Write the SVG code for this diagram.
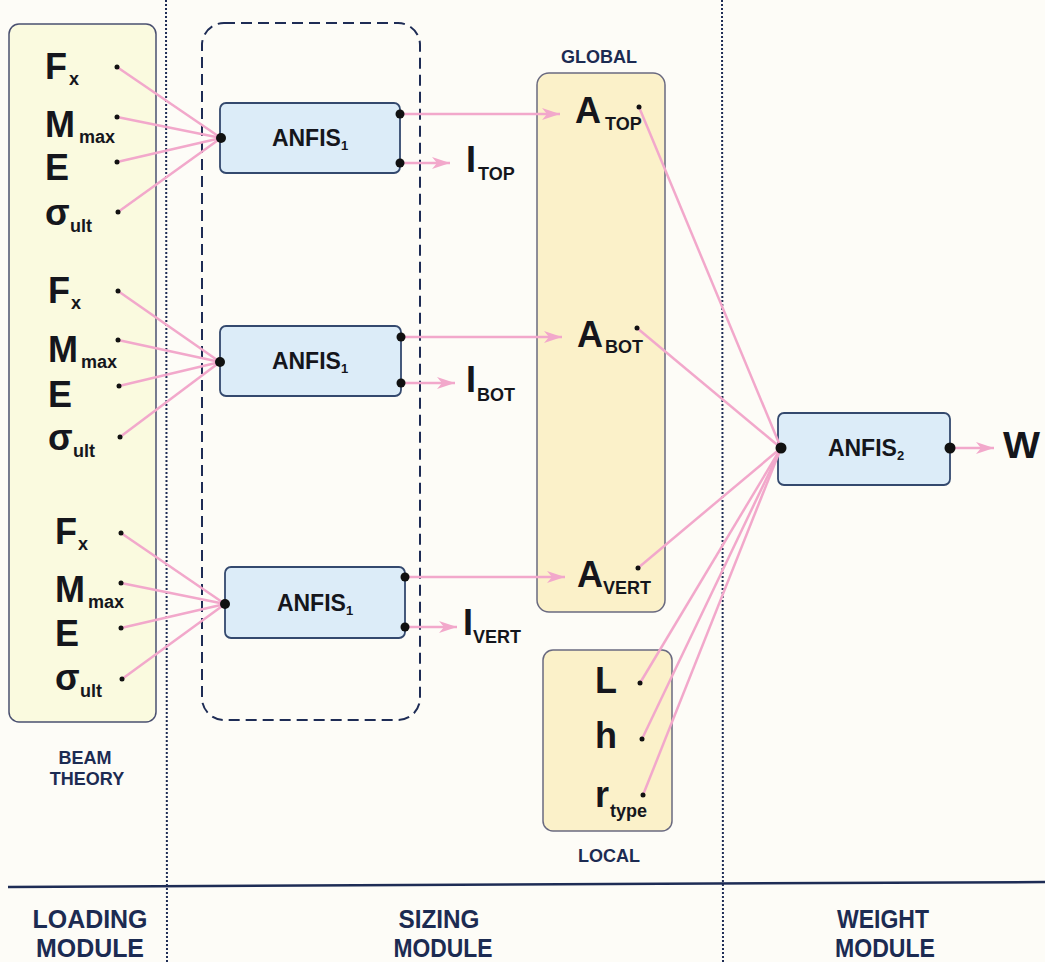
<svg xmlns="http://www.w3.org/2000/svg" width="1045" height="962" viewBox="0 0 1045 962">
<defs>
<style>
.bg{fill:#fdfcf7}
.beam{fill:#fafadf;stroke:#4a5070;stroke-width:1.5}
.gl{fill:#fbf1c9;stroke:#6a6a80;stroke-width:1.5}
.anf{fill:#dcecf8;stroke:#34496e;stroke-width:1.8}
.dash{fill:none;stroke:#1e2c55;stroke-width:2;stroke-dasharray:11,6}
.dot{fill:none;stroke:#1e2c55;stroke-width:2;stroke-dasharray:2,2}
.con{fill:none;stroke:#f2a8cb;stroke-width:2.5}
.big{font-family:"Liberation Sans",Arial,sans-serif;font-weight:bold;font-size:36px;fill:#15161c}
.sub{font-family:"Liberation Sans",Arial,sans-serif;font-weight:bold;font-size:18px;fill:#15161c}
.box{font-family:"Liberation Sans",Arial,sans-serif;font-weight:bold;font-size:23px;fill:#15161c}
.bsub{font-size:13px}
.lab{font-family:"Liberation Sans",Arial,sans-serif;font-weight:bold;font-size:18px;fill:#1c2b52}
.mod{font-family:"Liberation Sans",Arial,sans-serif;font-weight:bold;font-size:25px;fill:#1c2b52}
.pt{fill:#111}
</style>
<marker id="ar" markerUnits="userSpaceOnUse" markerWidth="20" markerHeight="14" refX="18" refY="7" orient="auto">
<path d="M0,1 L18,7 L0,13 L5,7 z" fill="#f2a8cb"/>
</marker>
</defs>
<rect class="bg" x="0" y="0" width="1045" height="962"/>

<g id="dividers">
<line class="dot" x1="166" y1="0" x2="167" y2="962"/>
<line class="dot" x1="722" y1="0" x2="723" y2="962"/>
<line x1="8" y1="887" x2="1045" y2="882" stroke="#1e2c55" stroke-width="2.5"/>
</g>

<g id="loading-box">
<rect class="beam" x="9" y="24" width="147" height="698" rx="10"/>
<text class="lab" x="85" y="764" text-anchor="middle">BEAM</text>
<text class="lab" x="87" y="785" text-anchor="middle">THEORY</text>
</g>

<g id="sizing-group">
<rect class="dash" x="202" y="23" width="218" height="697" rx="22"/>
</g>

<g id="global-box">
<rect class="gl" x="537" y="73" width="128" height="539" rx="12"/>
<text class="lab" x="599" y="63" text-anchor="middle">GLOBAL</text>
</g>

<g id="local-box">
<rect class="gl" x="543" y="650" width="129" height="181" rx="10"/>
<text class="lab" x="609" y="862" text-anchor="middle">LOCAL</text>
</g>

<g id="inputs-1">
<text class="big" x="45" y="79">F</text><text class="sub" x="69" y="85">x</text>
<text class="big" x="45" y="137">M</text><text class="sub" x="79" y="143">max</text>
<text class="big" x="45" y="180">E</text>
<text class="big" x="45" y="225">σ</text><text class="sub" x="70" y="232">ult</text>
</g>
<g id="inputs-2">
<text class="big" x="48" y="303">F</text><text class="sub" x="71" y="309">x</text>
<text class="big" x="48" y="362">M</text><text class="sub" x="81" y="368">max</text>
<text class="big" x="48" y="407">E</text>
<text class="big" x="48" y="450">σ</text><text class="sub" x="73" y="457">ult</text>
</g>
<g id="inputs-3">
<text class="big" x="55" y="544">F</text><text class="sub" x="78" y="550">x</text>
<text class="big" x="55" y="602">M</text><text class="sub" x="88" y="608">max</text>
<text class="big" x="55" y="646">E</text>
<text class="big" x="55" y="690">σ</text><text class="sub" x="80" y="697">ult</text>
</g>

<g id="anfis1-a">
<rect class="anf" x="220" y="103" width="180" height="70" rx="6"/>
<text class="box" x="310" y="146" text-anchor="middle">ANFIS<tspan class="bsub" dy="4">1</tspan></text>
</g>
<g id="anfis1-b">
<rect class="anf" x="220" y="326" width="181" height="70" rx="6"/>
<text class="box" x="310" y="369" text-anchor="middle">ANFIS<tspan class="bsub" dy="4">1</tspan></text>
</g>
<g id="anfis1-c">
<rect class="anf" x="225" y="567" width="180" height="71" rx="6"/>
<text class="box" x="315" y="611" text-anchor="middle">ANFIS<tspan class="bsub" dy="4">1</tspan></text>
</g>
<g id="anfis2">
<rect class="anf" x="778" y="413" width="172" height="72" rx="6"/>
<text class="box" x="866" y="456" text-anchor="middle">ANFIS<tspan class="bsub" dy="4">2</tspan></text>
</g>

<g id="outputs">
<text class="big" x="466" y="172">I</text><text class="sub" x="478" y="180">TOP</text>
<text class="big" x="466" y="392">I</text><text class="sub" x="477" y="401">BOT</text>
<text class="big" x="463" y="635">I</text><text class="sub" x="473" y="643">VERT</text>
</g>
<g id="areas">
<text class="big" x="575" y="123">A</text><text class="sub" x="605" y="130">TOP</text>
<text class="big" x="577" y="347">A</text><text class="sub" x="605" y="353">BOT</text>
<text class="big" x="577" y="587">A</text><text class="sub" x="603" y="594">VERT</text>
</g>
<g id="local-vars">
<text class="big" x="595" y="693">L</text>
<text class="big" x="595" y="748">h</text>
<text class="big" x="595" y="807">r</text><text class="sub" x="610" y="817">type</text>
</g>
<g id="weight">
<text class="big" x="1003" y="458" font-size="30" textLength="37" lengthAdjust="spacingAndGlyphs">W</text>
</g>

<g id="connectors">
<line class="con" x1="117" y1="67" x2="221" y2="138"/>
<line class="con" x1="117" y1="117" x2="221" y2="138"/>
<line class="con" x1="117" y1="162" x2="221" y2="138"/>
<line class="con" x1="118" y1="212" x2="221" y2="138"/>
<line class="con" x1="118" y1="291" x2="220" y2="362"/>
<line class="con" x1="118" y1="340" x2="220" y2="362"/>
<line class="con" x1="119" y1="386" x2="220" y2="362"/>
<line class="con" x1="120" y1="437" x2="220" y2="362"/>
<line class="con" x1="121" y1="533" x2="225" y2="604"/>
<line class="con" x1="121" y1="583" x2="225" y2="604"/>
<line class="con" x1="121" y1="628" x2="225" y2="604"/>
<line class="con" x1="122" y1="679" x2="225" y2="604"/>
<line class="con" x1="400" y1="114" x2="560" y2="114" marker-end="url(#ar)"/>
<line class="con" x1="400" y1="163" x2="450" y2="163" marker-end="url(#ar)"/>
<line class="con" x1="401" y1="337" x2="562" y2="337" marker-end="url(#ar)"/>
<line class="con" x1="401" y1="383" x2="455" y2="383" marker-end="url(#ar)"/>
<line class="con" x1="405" y1="577" x2="565" y2="577" marker-end="url(#ar)"/>
<line class="con" x1="405" y1="627" x2="457" y2="627" marker-end="url(#ar)"/>
<line class="con" x1="639" y1="107" x2="781" y2="448"/>
<line class="con" x1="637" y1="328" x2="781" y2="448"/>
<line class="con" x1="638" y1="568" x2="781" y2="448"/>
<line class="con" x1="640" y1="683" x2="781" y2="448"/>
<line class="con" x1="642" y1="739" x2="781" y2="448"/>
<line class="con" x1="643" y1="795" x2="781" y2="448"/>
<line class="con" x1="950" y1="448" x2="994" y2="448" marker-end="url(#ar)"/>
</g>

<g id="ports">
<circle class="pt" cx="117" cy="67" r="2.5"/><circle class="pt" cx="117" cy="117" r="2.5"/><circle class="pt" cx="117" cy="162" r="2.5"/><circle class="pt" cx="118" cy="212" r="2.5"/>
<circle class="pt" cx="118" cy="291" r="2.5"/><circle class="pt" cx="118" cy="340" r="2.5"/><circle class="pt" cx="119" cy="386" r="2.5"/><circle class="pt" cx="120" cy="437" r="2.5"/>
<circle class="pt" cx="121" cy="533" r="2.5"/><circle class="pt" cx="121" cy="583" r="2.5"/><circle class="pt" cx="121" cy="628" r="2.5"/><circle class="pt" cx="122" cy="679" r="2.5"/>
<circle class="pt" cx="639" cy="107" r="2.5"/><circle class="pt" cx="637" cy="328" r="2.5"/><circle class="pt" cx="638" cy="568" r="2.5"/>
<circle class="pt" cx="640" cy="683" r="2.5"/><circle class="pt" cx="642" cy="739" r="2.5"/><circle class="pt" cx="643" cy="795" r="2.5"/>
<circle class="pt" cx="221" cy="138" r="5"/><circle class="pt" cx="400" cy="114" r="4.5"/><circle class="pt" cx="400" cy="163" r="4.5"/>
<circle class="pt" cx="220" cy="362" r="5"/><circle class="pt" cx="401" cy="337" r="4.5"/><circle class="pt" cx="401" cy="383" r="4.5"/>
<circle class="pt" cx="225" cy="604" r="5"/><circle class="pt" cx="405" cy="577" r="4.5"/><circle class="pt" cx="405" cy="627" r="4.5"/>
<circle class="pt" cx="781" cy="448" r="5.5"/><circle class="pt" cx="950" cy="448" r="5.5"/>
</g>

<g id="module-labels">
<text class="mod" x="90" y="928" text-anchor="middle" textLength="115" lengthAdjust="spacingAndGlyphs">LOADING</text>
<text class="mod" x="90" y="957" text-anchor="middle" textLength="108" lengthAdjust="spacingAndGlyphs">MODULE</text>
<text class="mod" x="439" y="928" text-anchor="middle" textLength="81" lengthAdjust="spacingAndGlyphs">SIZING</text>
<text class="mod" x="443" y="957" text-anchor="middle" textLength="99" lengthAdjust="spacingAndGlyphs">MODULE</text>
<text class="mod" x="883" y="928" text-anchor="middle" textLength="92" lengthAdjust="spacingAndGlyphs">WEIGHT</text>
<text class="mod" x="885" y="957" text-anchor="middle" textLength="100" lengthAdjust="spacingAndGlyphs">MODULE</text>
</g>
</svg>
